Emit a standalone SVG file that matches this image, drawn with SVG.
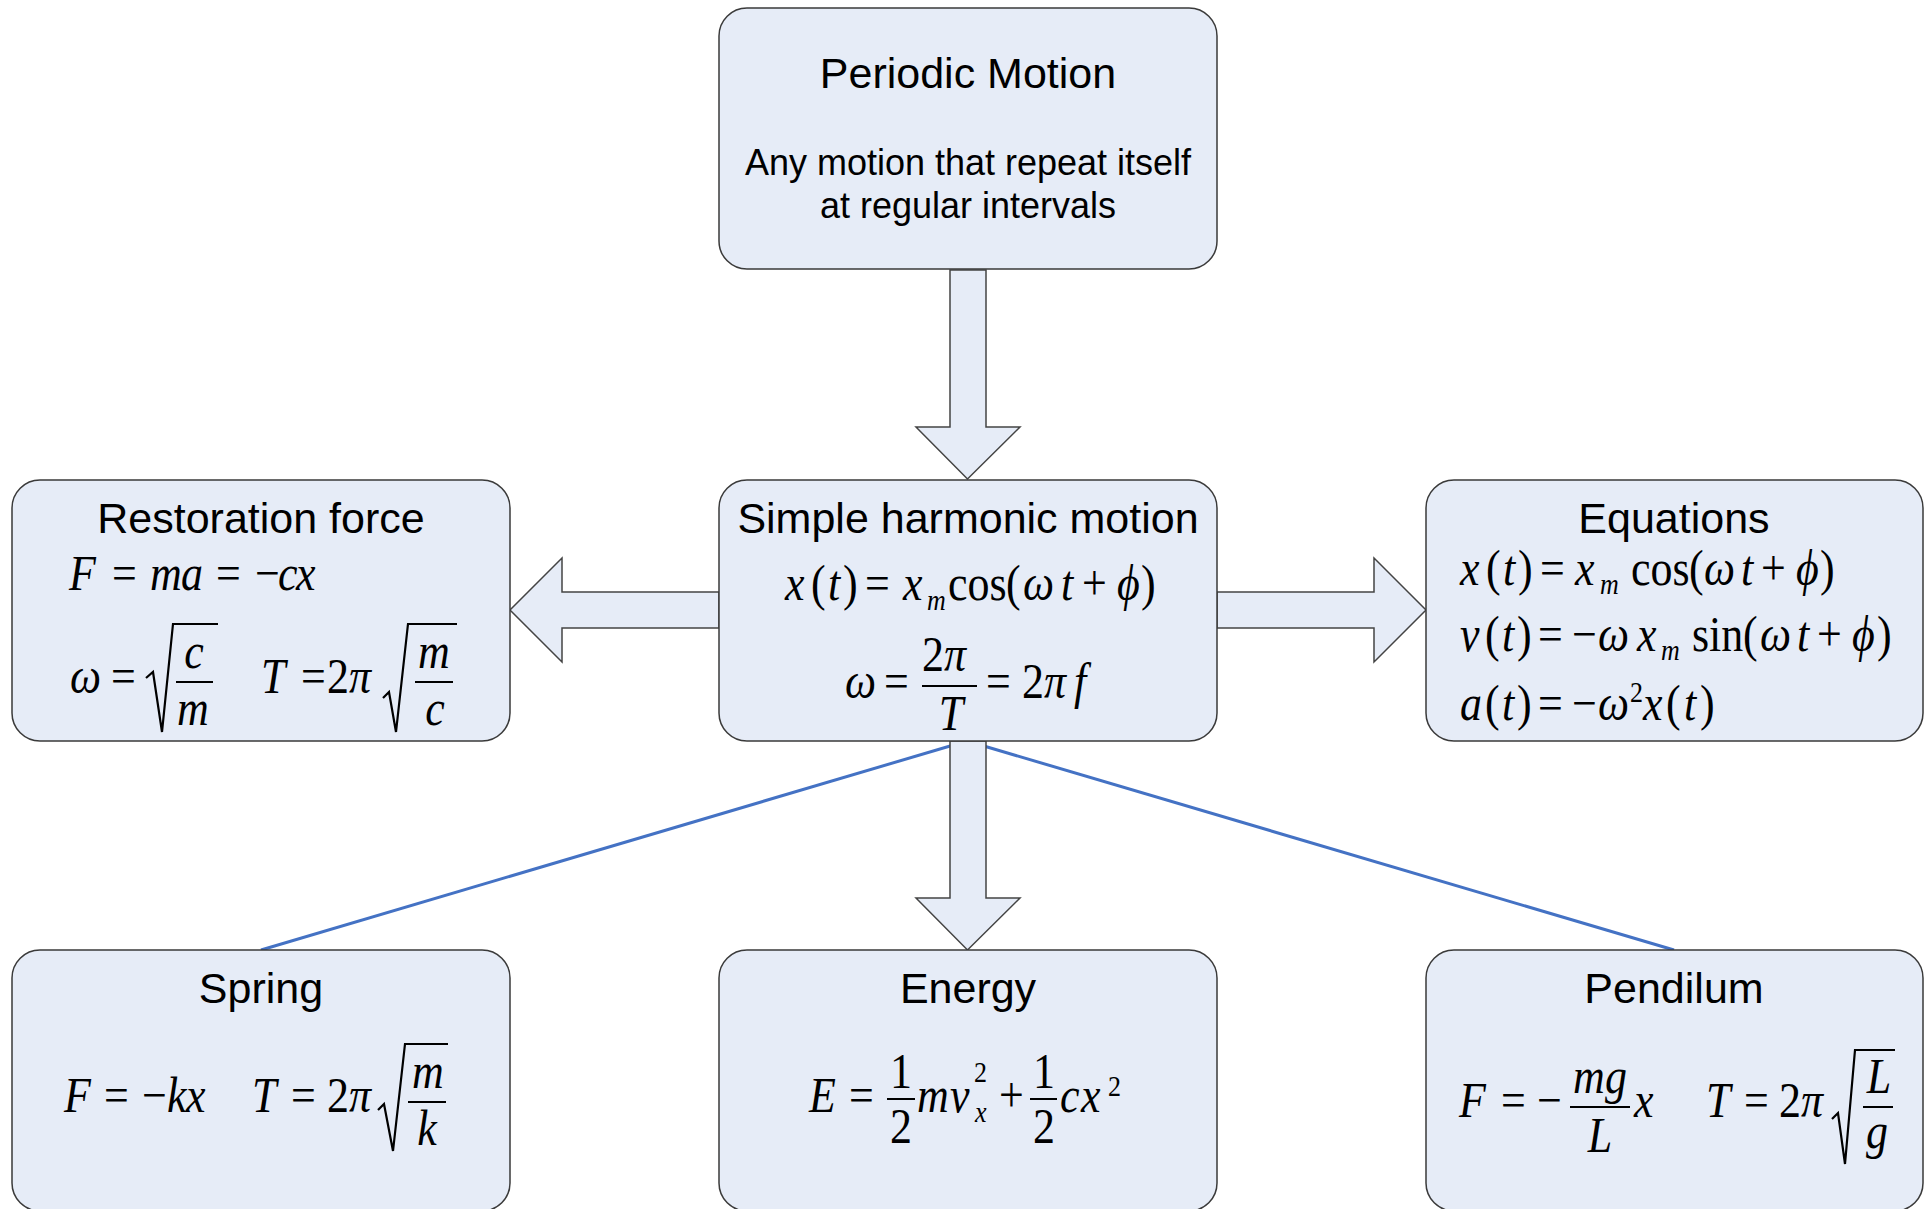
<svg xmlns="http://www.w3.org/2000/svg" width="1931" height="1209" viewBox="0 0 1931 1209">
<style>
.box{fill:#E6ECF7;stroke:#3a3a3a;stroke-width:1.5}
.arrow{fill:#E6ECF7;stroke:#444;stroke-width:1.5;stroke-linejoin:miter}
.link{stroke:#4472C4;stroke-width:3;fill:none}
.t{font-family:"Liberation Sans",Arial,sans-serif;font-size:43px;text-anchor:middle;fill:#000}
.s{font-family:"Liberation Sans",Arial,sans-serif;font-size:36px;text-anchor:middle;fill:#000}
.m{font-family:"Liberation Serif","Times New Roman","DejaVu Serif",serif;font-size:44px;fill:#000}
.i{font-style:italic}
.sm{font-size:26px}
.c{text-anchor:middle}
.rad{fill:none;stroke:#000;stroke-width:2.2;stroke-linejoin:miter}
.bar{stroke:#000;stroke-width:2}
</style>
<g id="connectors">
<line class="link" x1="967" y1="741" x2="261" y2="950"/>
<line class="link" x1="967" y1="741" x2="1674" y2="950"/>
<polygon class="arrow" points="950,270 986,270 986,427 1020,427 967.5,479 916,427 950,427"/>
<polygon class="arrow" points="950,741 986,741 986,898 1020,898 967.5,950 916,898 950,898"/>
<polygon class="arrow" points="719,592 562,592 562,558 510,610 562,662 562,628 719,628"/>
<polygon class="arrow" points="1217,592 1374,592 1374,558 1426,610 1374,662 1374,628 1217,628"/>
</g>
<g id="periodic">
<rect class="box" x="719" y="8" width="498" height="261" rx="28"/>
<text class="t" x="968" y="88">Periodic Motion</text>
<text class="s" x="968" y="175">Any motion that repeat itself</text>
<text class="s" x="968" y="218">at regular intervals</text>
</g>
<g id="shm">
<rect class="box" x="719" y="480" width="498" height="261" rx="28"/>
<text class="t" x="968" y="533">Simple harmonic motion</text>
<text class="m" y="600" transform="matrix(1 0 0 1.15 0 -90)"><tspan class="i" x="785">x</tspan><tspan x="811">(</tspan><tspan class="i" x="828">t</tspan><tspan x="843">)</tspan><tspan x="865">=</tspan><tspan class="i" x="903">x</tspan><tspan class="i sm" x="927" y="609">m</tspan><tspan x="948" y="600">cos</tspan><tspan x="1006">(</tspan><tspan class="i" x="1023">ω</tspan><tspan class="i" x="1061">t</tspan><tspan x="1082">+</tspan><tspan class="i" x="1117">ϕ</tspan><tspan x="1141">)</tspan></text>
<text class="m" y="698" transform="matrix(1 0 0 1.15 0 -104.7)"><tspan class="i" x="845">ω</tspan><tspan x="884">=</tspan><tspan x="986">=</tspan><tspan x="1022">2</tspan><tspan class="i" x="1044">π</tspan><tspan class="i" x="1074">f</tspan></text>
<text class="m" y="671" transform="matrix(1 0 0 1.15 0 -100.65)"><tspan x="922">2</tspan><tspan class="i" x="944">π</tspan></text>
<line class="bar" x1="922" y1="686" x2="977" y2="686"/>
<text class="m i c" x="951" y="730" transform="matrix(1 0 0 1.15 0 -109.5)">T</text>
</g>
<g id="restoration">
<rect class="box" x="12" y="480" width="498" height="261" rx="28"/>
<text class="t" x="261" y="533">Restoration force</text>
<text class="m" y="590" transform="matrix(1 0 0 1.15 0 -88.5)"><tspan class="i" x="69">F</tspan><tspan x="112">=</tspan><tspan class="i" x="150">m</tspan><tspan class="i" x="181">a</tspan><tspan x="216">=</tspan><tspan x="255">−</tspan><tspan class="i" x="278">c</tspan><tspan class="i" x="296">x</tspan></text>
<text class="m" y="693" transform="matrix(1 0 0 1.15 0 -103.95)"><tspan class="i" x="70">ω</tspan><tspan x="111">=</tspan><tspan class="i" x="261">T</tspan><tspan x="301">=</tspan><tspan x="327">2</tspan><tspan class="i" x="349">π</tspan></text>
<path class="rad" d="M146,678 L153,672 L162,732 L173,624 L218,624"/>
<text class="m i c" x="194" y="668" transform="matrix(1 0 0 1.15 0 -100.2)">c</text>
<line class="bar" x1="176" y1="682" x2="213" y2="682"/>
<text class="m i c" x="193" y="725" transform="matrix(1 0 0 1.15 0 -108.75)">m</text>
<path class="rad" d="M383,698 L389,692 L396,732 L408,624 L457,624"/>
<text class="m i c" x="434" y="668" transform="matrix(1 0 0 1.15 0 -100.2)">m</text>
<line class="bar" x1="415" y1="682" x2="453" y2="682"/>
<text class="m i c" x="435" y="725" transform="matrix(1 0 0 1.15 0 -108.75)">c</text>
</g>
<g id="equations">
<rect class="box" x="1426" y="480" width="497" height="261" rx="28"/>
<text class="t" x="1674" y="533">Equations</text>
<text class="m" y="585" transform="matrix(1 0 0 1.15 0 -87.75)"><tspan class="i" x="1460">x</tspan><tspan x="1486">(</tspan><tspan class="i" x="1503">t</tspan><tspan x="1518">)</tspan><tspan x="1540">=</tspan><tspan class="i" x="1575">x</tspan><tspan class="i sm" x="1600" y="593">m</tspan><tspan x="1631" y="585">cos</tspan><tspan x="1689">(</tspan><tspan class="i" x="1704">ω</tspan><tspan class="i" x="1741">t</tspan><tspan x="1761">+</tspan><tspan class="i" x="1796">ϕ</tspan><tspan x="1820">)</tspan></text>
<text class="m" y="651" transform="matrix(1 0 0 1.15 0 -97.65)"><tspan class="i" x="1460">v</tspan><tspan x="1485">(</tspan><tspan class="i" x="1502">t</tspan><tspan x="1517">)</tspan><tspan x="1538">=</tspan><tspan x="1572">−</tspan><tspan class="i" x="1598">ω</tspan><tspan class="i" x="1637">x</tspan><tspan class="i sm" x="1661" y="659">m</tspan><tspan x="1692" y="651">sin</tspan><tspan x="1743">(</tspan><tspan class="i" x="1760">ω</tspan><tspan class="i" x="1797">t</tspan><tspan x="1817">+</tspan><tspan class="i" x="1852">ϕ</tspan><tspan x="1877">)</tspan></text>
<text class="m" y="720" transform="matrix(1 0 0 1.15 0 -108)"><tspan class="i" x="1460">a</tspan><tspan x="1485">(</tspan><tspan class="i" x="1502">t</tspan><tspan x="1517">)</tspan><tspan x="1538">=</tspan><tspan x="1572">−</tspan><tspan class="i" x="1598">ω</tspan><tspan class="sm" x="1630" y="704">2</tspan><tspan class="i" x="1643" y="720">x</tspan><tspan x="1666">(</tspan><tspan class="i" x="1684">t</tspan><tspan x="1700">)</tspan></text>
</g>
<g id="spring">
<rect class="box" x="12" y="950" width="498" height="261" rx="28"/>
<text class="t" x="261" y="1003">Spring</text>
<text class="m" y="1112" transform="matrix(1 0 0 1.15 0 -166.8)"><tspan class="i" x="64">F</tspan><tspan x="104">=</tspan><tspan x="142">−</tspan><tspan class="i" x="167">k</tspan><tspan class="i" x="186">x</tspan><tspan class="i" x="252">T</tspan><tspan x="291">=</tspan><tspan x="327">2</tspan><tspan class="i" x="349">π</tspan></text>
<path class="rad" d="M378,1110 L384,1104 L393,1151 L405,1044 L448,1044"/>
<text class="m i c" x="428" y="1088" transform="matrix(1 0 0 1.15 0 -163.2)">m</text>
<line class="bar" x1="408" y1="1102" x2="446" y2="1102"/>
<text class="m i c" x="427" y="1145" transform="matrix(1 0 0 1.15 0 -171.75)">k</text>
</g>
<g id="energy">
<rect class="box" x="719" y="950" width="498" height="261" rx="28"/>
<text class="t" x="968" y="1003">Energy</text>
<text class="m" y="1112" transform="matrix(1 0 0 1.15 0 -166.8)"><tspan class="i" x="809">E</tspan><tspan x="849">=</tspan><tspan class="i" x="917">m</tspan><tspan class="i" x="950">v</tspan><tspan class="sm" x="974" y="1086">2</tspan><tspan class="i sm" x="975" y="1121">x</tspan><tspan x="999" y="1112">+</tspan><tspan class="i" x="1060">c</tspan><tspan class="i" x="1081">x</tspan><tspan class="sm" x="1108" y="1098">2</tspan></text>
<text class="m c" x="901" y="1088" transform="matrix(1 0 0 1.15 0 -163.2)">1</text>
<line class="bar" x1="887" y1="1099" x2="915" y2="1099"/>
<text class="m c" x="901" y="1143" transform="matrix(1 0 0 1.15 0 -171.45)">2</text>
<text class="m c" x="1044" y="1088" transform="matrix(1 0 0 1.15 0 -163.2)">1</text>
<line class="bar" x1="1030" y1="1099" x2="1057" y2="1099"/>
<text class="m c" x="1044" y="1143" transform="matrix(1 0 0 1.15 0 -171.45)">2</text>
</g>
<g id="pendulum">
<rect class="box" x="1426" y="950" width="497" height="261" rx="28"/>
<text class="t" x="1674" y="1003">Pendilum</text>
<text class="m" y="1117" transform="matrix(1 0 0 1.15 0 -167.55)"><tspan class="i" x="1459">F</tspan><tspan x="1501">=</tspan><tspan x="1537">−</tspan><tspan class="i" x="1634">x</tspan><tspan class="i" x="1706">T</tspan><tspan x="1744">=</tspan><tspan x="1779">2</tspan><tspan class="i" x="1801">π</tspan></text>
<text class="m i c" x="1600" y="1093" transform="matrix(1 0 0 1.15 0 -163.95)">mg</text>
<line class="bar" x1="1570" y1="1107" x2="1630" y2="1107"/>
<text class="m i c" x="1600" y="1152" transform="matrix(1 0 0 1.15 0 -172.8)">L</text>
<path class="rad" d="M1832,1119 L1838,1113 L1845,1164 L1855,1050 L1895,1050"/>
<text class="m i c" x="1879" y="1093" transform="matrix(1 0 0 1.15 0 -163.95)">L</text>
<line class="bar" x1="1863" y1="1107" x2="1893" y2="1107"/>
<text class="m i c" x="1877" y="1148" transform="matrix(1 0 0 1.15 0 -172.2)">g</text>
</g>
</svg>
